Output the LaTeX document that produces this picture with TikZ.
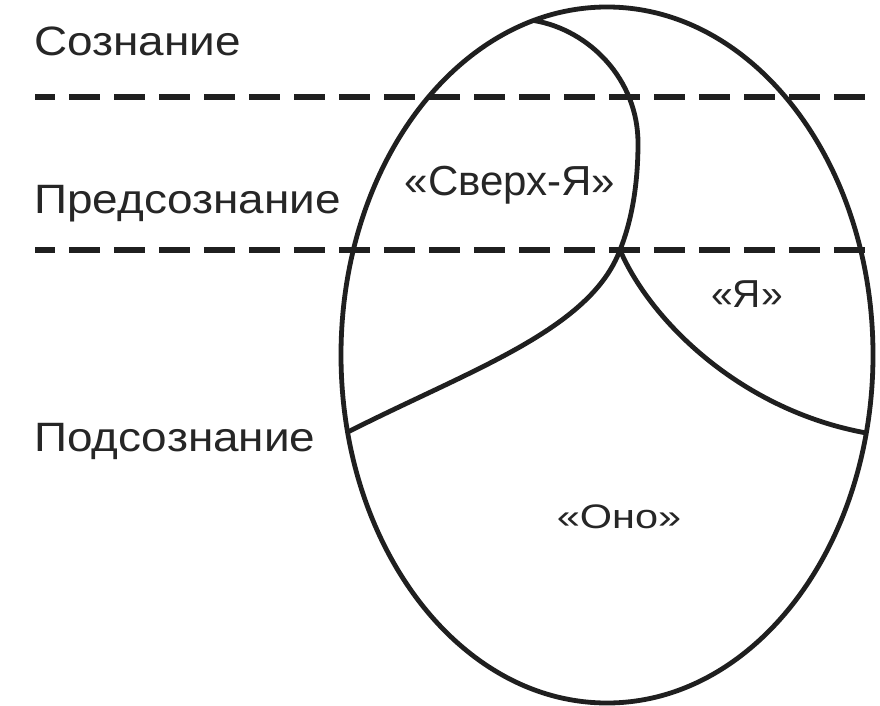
\documentclass[tikz,border=0pt]{standalone}
\usepackage{fontspec}
\setmainfont{Liberation Sans}
\newfontfamily\sidefont{Liberation Sans}[FakeStretch=1.12]
\newfontfamily\idfont{Liberation Sans}[FakeStretch=1.22]
\usetikzlibrary{calc}
\tikzset{
  egg/.style={line width=4.8pt, draw=black!88},
  level/.style={line width=5.5pt, draw=black!88, dash pattern=on 31pt off 14pt, dash phase=11pt},
  sidelbl/.style={inner sep=0pt, text=black!85, font=\sidefont\fontsize{41}{41}\selectfont},
  partlbl/.style={inner sep=0pt, text=black!85, font=\fontsize{42}{42}\selectfont},
}
\begin{document}
\begin{tikzpicture}[x=1pt,y=-1pt]
\useasboundingbox[fill=white] (0,0) rectangle (880,706);
% levels
\coordinate (d1a) at (35,97);  \coordinate (d1b) at (870,97);
\coordinate (d2a) at (35,250); \coordinate (d2b) at (867,250);
\draw[level] (d1a) -- (d1b);
\draw[level] (d2a) -- (d2b);
% egg
\coordinate (C) at (607,355);
\draw[egg] (C) ellipse [x radius=266pt, y radius=348pt];
\coordinate (top) at ($(C)+(106:266pt and 348pt)$);
\coordinate (left) at ($(C)+(192.8:266pt and 348pt)$);
\coordinate (right) at ($(C)+(-12.95:266pt and 348pt)$);
\coordinate (cusp) at (620,250);
\coordinate (bulge) at (638,143);
% superego boundary
\draw[egg] (top) .. controls (590,30) and (638,80) .. (bulge)
  .. controls (638,190) and (630,225) .. (cusp);
% ego / id boundaries
\draw[egg] (cusp) .. controls (590,330) and (470,370) .. (left);
\draw[egg] (cusp) .. controls (650,320) and (740,410) .. (right);
% labels
\node[sidelbl, anchor=base west] (soz) at (34,56) {Сознание};
\node[sidelbl, anchor=base west] (pred) at (34,213) {Предсознание};
\node[sidelbl, anchor=base west] (pod) at (34,451) {Подсознание};
\node[partlbl, anchor=base] (sup) at (510,195) {«Сверх-Я»};
\node[partlbl, anchor=base, font=\fontsize{39}{39}\selectfont] (ego) at (747,307) {«Я»};
\node[partlbl, anchor=base, font=\idfont\fontsize{34}{34}\selectfont] (id) at (619,528) {«Оно»};
\end{tikzpicture}
\end{document}
